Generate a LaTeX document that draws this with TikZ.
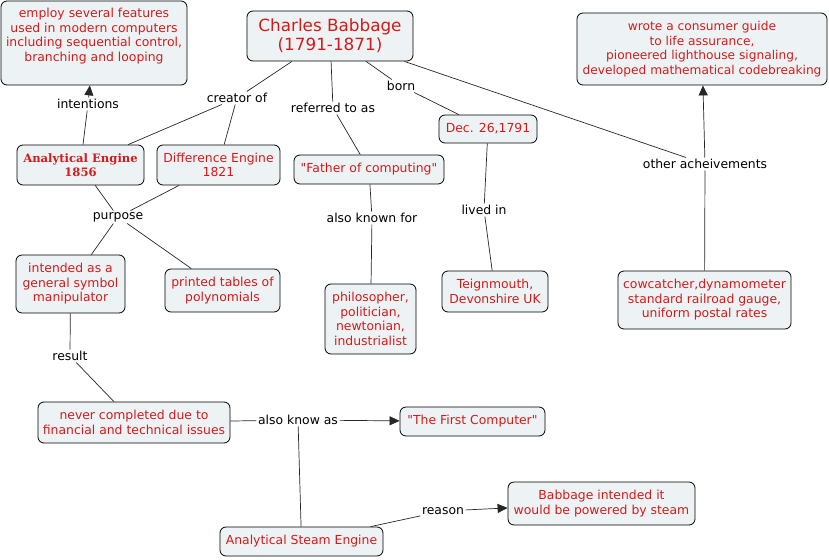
\documentclass[tikz,border=0pt]{standalone}
\usepackage{fontspec}
\setmainfont{DejaVu Sans}
\newfontfamily\plainsans{DejaVu Sans}
\newfontfamily\serifbold{DejaVu Serif}
\usetikzlibrary{arrows.meta}
\definecolor{cred}{RGB}{214,26,26}
\definecolor{cfill}{RGB}{237,243,245}
\tikzset{
  concept/.style={draw=black, line width=0.8pt, fill=cfill, rounded corners=6pt,
    text=cred, align=center, font=\fontsize{12.4}{14.5}\selectfont, inner sep=0pt},
  ctext/.style={text=cred, align=center, font=\fontsize{12.4}{14.5}\selectfont, inner sep=0pt},
  lbl/.style={text=black, font=\fontsize{12.4}{14}\selectfont, inner sep=1.5pt},
  conn/.style={draw=black!85, line width=0.7pt},
  arr/.style={conn, -{Triangle[length=10pt,width=9pt]}},
}
\begin{document}
\begin{tikzpicture}[x=1pt,y=-1pt]
\useasboundingbox (0,0) rectangle (829,559);

% concepts
\node[concept, minimum width=186pt, minimum height=84pt] (emp) at (94,43) {};
\node[ctext] (emptext) at (94,36) {employ several features\\used in modern computers\\including sequential control,\\branching and looping};
\node[concept, minimum width=166pt, minimum height=50pt, font=\fontsize{16.8}{19}\selectfont] (cb) at (330,36) {Charles Babbage\\(1791-1871)};
\node[concept, minimum width=250pt, minimum height=72pt, font=\fontsize{12.2}{14.7}\selectfont] (wrote) at (702,49) {wrote a consumer guide\\to life assurance,\\pioneered lighthouse signaling,\\developed mathematical codebreaking};
\node[concept, minimum width=127pt, minimum height=40pt, font=\fontsize{11.6}{14}\serifbold\bfseries] (ae) at (80.5,165) {Analytical Engine\\1856};
\node[concept, minimum width=123pt, minimum height=40pt] (de) at (218.5,165) {Difference Engine\\1821};
\node[concept, minimum width=150pt, minimum height=29pt] (father) at (369,169.5) {\plainsans"Father of computing"};
\node[concept, minimum width=98pt, minimum height=28pt] (dec) at (488,129) {Dec. 26,1791};
\node[concept, minimum width=109pt, minimum height=58pt] (intended) at (70.5,284) {intended as a\\general symbol\\manipulator};
\node[concept, minimum width=115pt, minimum height=43pt] (printed) at (222.5,290.5) {printed tables of\\polynomials};
\node[concept, minimum width=91pt, minimum height=70pt] (phil) at (370.5,319) {philosopher,\\politician,\\newtonian,\\industrialist};
\node[concept, minimum width=106pt, minimum height=41pt] (teign) at (495,291.5) {Teignmouth,\\Devonshire UK};
\node[concept, minimum width=173pt, minimum height=58pt] (cow) at (704.5,300) {cowcatcher,dynamometer\\standard railroad gauge,\\uniform postal rates};
\node[concept, minimum width=192pt, minimum height=41pt] (never) at (134,422.5) {never completed due to\\financial and technical issues};
\node[concept, minimum width=145pt, minimum height=29pt] (first) at (472.5,421.5) {\plainsans"The First Computer"};
\node[concept, minimum width=187pt, minimum height=43pt] (bint) at (601.5,503.5) {Babbage intended it\\would be powered by steam};
\node[concept, minimum width=163pt, minimum height=29pt] (steam) at (301.5,541.5) {Analytical Steam Engine};

% linking phrases
\node[lbl] (l-int) at (88,104) {intentions};
\node[lbl] (l-cre) at (237,98) {creator of};
\node[lbl] (l-ref) at (333,108) {referred to as};
\node[lbl] (l-born) at (401,86) {born};
\node[lbl] (l-oth) at (705,164) {other acheivements};
\node[lbl] (l-pur) at (118,217) {purpose};
\node[lbl] (l-akf) at (372,218) {also known for};
\node[lbl] (l-liv) at (484,210) {lived in};
\node[lbl] (l-res) at (70,356) {result};
\node[lbl] (l-aka) at (298,420) {also know as};
\node[lbl] (l-rea) at (443,511) {reason};

% connectors
\draw[conn] (ae) -- (l-int);
\draw[arr] (l-int) -- (emp);
\draw[conn] (cb) -- (l-cre);
\draw[conn] (l-cre) -- (ae);
\draw[conn] (l-cre) -- (de);
\draw[conn] (cb) -- (l-ref);
\draw[conn] (l-ref) -- (father);
\draw[conn] (cb) -- (l-born);
\draw[conn] (l-born) -- (dec);
\draw[conn] (cb) -- (l-oth);
\draw[arr] (l-oth) -- (wrote);
\draw[conn] (cow) -- (l-oth);
\draw[conn] (ae) -- (l-pur);
\draw[conn] (de) -- (l-pur);
\draw[conn] (l-pur) -- (intended);
\draw[conn] (l-pur) -- (printed);
\draw[conn] (father) -- (l-akf);
\draw[conn] (l-akf) -- (phil);
\draw[conn] (dec) -- (l-liv);
\draw[conn] (l-liv) -- (teign);
\draw[conn] (intended) -- (l-res);
\draw[conn] (l-res) -- (never);
\draw[conn] (never) -- (l-aka);
\draw[arr] (l-aka) -- (first);
\draw[conn] (steam) -- (l-aka);
\draw[conn] (steam) -- (l-rea);
\draw[arr] (l-rea) -- (bint);
\end{tikzpicture}
\end{document}
